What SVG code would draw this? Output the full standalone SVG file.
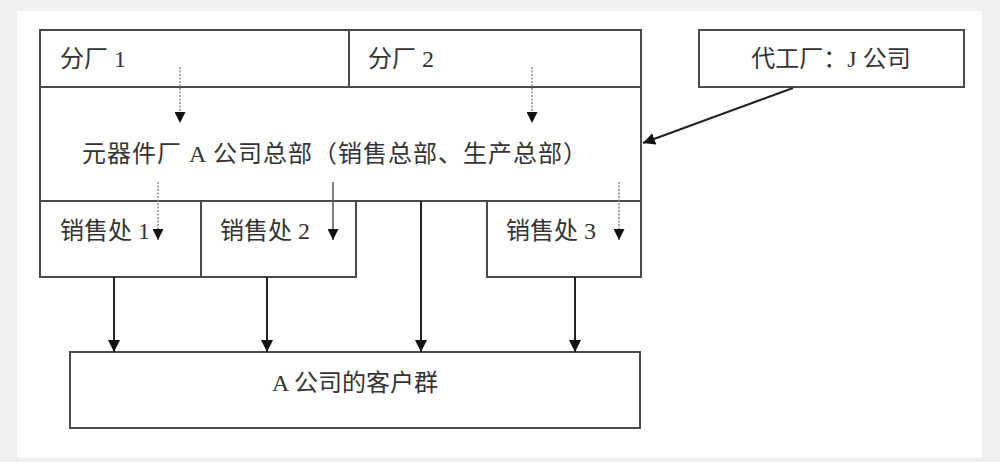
<svg xmlns="http://www.w3.org/2000/svg" width="1000" height="462" viewBox="0 0 1000 462">
<style>
.box{fill:none;stroke:#4a4a4a;stroke-width:2}
.t{font-family:"Liberation Serif","Noto Sans CJK SC",serif;font-size:24px;fill:#333}
.c{stroke:#222;stroke-width:2;fill:none}
.d{stroke:#888;stroke-width:1.5;stroke-dasharray:2 1.5;fill:none}
.s{stroke:#555;stroke-width:1.5;fill:none}
</style>
<defs>
<marker id="ah" viewBox="0 0 10 10" refX="10" refY="5" markerWidth="11" markerHeight="11" markerUnits="userSpaceOnUse" orient="auto">
<path d="M0,0 L10,5 L0,10 z" fill="#111"/>
</marker>
<marker id="ahs" viewBox="0 0 10 10" refX="10" refY="5" markerWidth="12" markerHeight="12" markerUnits="userSpaceOnUse" orient="auto">
<path d="M0,0 L10,5 L0,10 z" fill="#111"/>
</marker>
</defs>
<rect x="0" y="0" width="1000" height="462" fill="#efefef"/>
<rect x="17" y="11" width="965" height="447" fill="#ffffff"/>

<g id="fenchang1">
<rect class="box" x="40" y="30" width="309" height="57"/>
<text class="t" x="60" y="67">分厂 1</text>
</g>
<g id="fenchang2">
<rect class="box" x="349" y="30" width="292" height="57"/>
<text class="t" x="368" y="67">分厂 2</text>
</g>
<g id="hq">
<rect class="box" x="40" y="87" width="601" height="114"/>
<text class="t" x="82" y="162" font-size="25" textLength="505" lengthAdjust="spacing">元器件厂 A 公司总部（销售总部、生产总部）</text>
</g>
<g id="jcompany">
<rect class="box" x="699" y="30" width="265" height="57"/>
<text class="t" x="831" y="67" text-anchor="middle">代工厂：J 公司</text>
</g>
<g id="sales1">
<rect class="box" x="40" y="201" width="161" height="76"/>
<text class="t" x="60" y="239">销售处 1</text>
</g>
<g id="sales2">
<rect class="box" x="201" y="201" width="155" height="76"/>
<text class="t" x="220" y="239">销售处 2</text>
</g>
<g id="sales3">
<rect class="box" x="487" y="201" width="154" height="76"/>
<text class="t" x="506" y="239">销售处 3</text>
</g>
<g id="customers">
<rect class="box" x="70" y="352" width="570" height="76" stroke="#666"/>
<text class="t" x="355" y="391" text-anchor="middle" font-size="26">A 公司的客户群</text>
</g>

<g id="connectors">
<line class="d" x1="180" y1="67" x2="180" y2="123" marker-end="url(#ah)"/>
<line class="d" x1="532" y1="67" x2="532" y2="123" marker-end="url(#ah)"/>
<line class="d" x1="158" y1="182" x2="158" y2="240" marker-end="url(#ah)"/>
<line class="s" x1="333" y1="182" x2="333" y2="240" marker-end="url(#ah)"/>
<line class="d" x1="619" y1="182" x2="619" y2="240" marker-end="url(#ah)"/>
<line class="c" x1="793" y1="88" x2="643" y2="143" marker-end="url(#ahs)"/>
<line class="c" x1="114" y1="277" x2="114" y2="352" marker-end="url(#ahs)"/>
<line class="c" x1="267" y1="277" x2="267" y2="352" marker-end="url(#ahs)"/>
<line class="c" x1="421" y1="201" x2="421" y2="352" marker-end="url(#ahs)"/>
<line class="c" x1="575" y1="277" x2="575" y2="352" marker-end="url(#ahs)"/>
</g>
</svg>
